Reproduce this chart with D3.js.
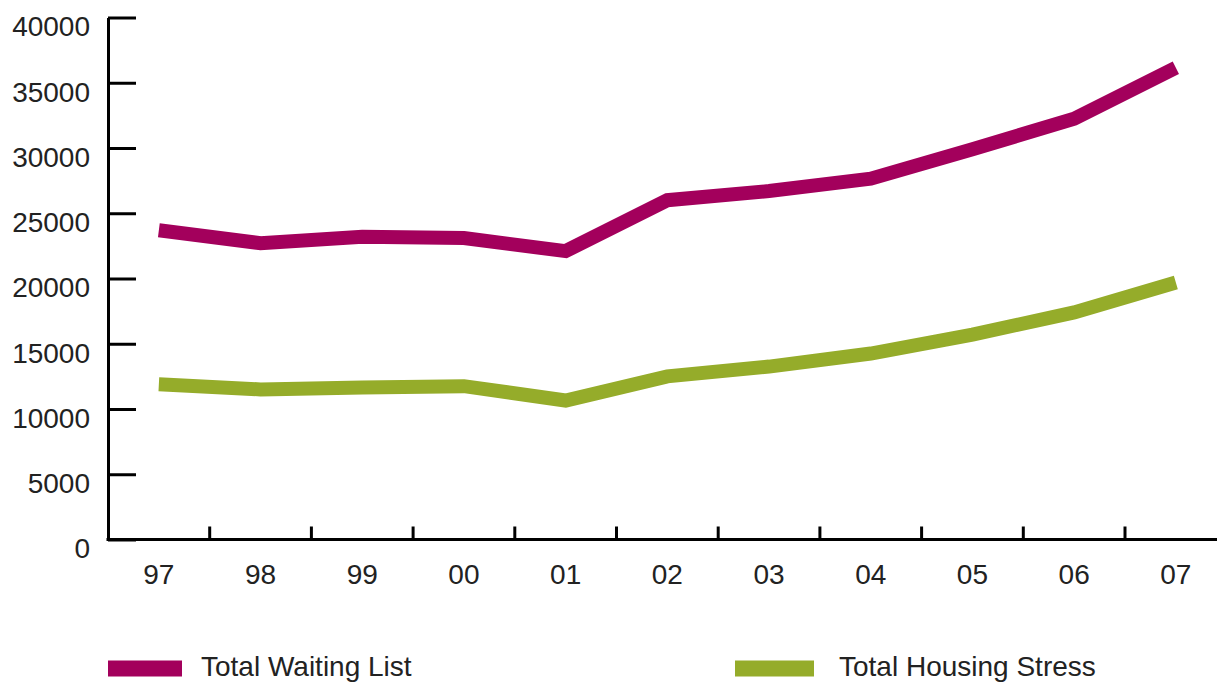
<!DOCTYPE html>
<head>
    <title>Waiting list and housing stress</title>
    <script src="https://d3js.org/d3.v7.min.js"></script>
</head>
<style>
body {
  margin: 0;
  background: #fff;
  font-family: "Liberation Sans", Helvetica, Arial, sans-serif;
}
</style>
<body>
    <svg></svg>
</body>

<script>

    // Data
    var years = ["97", "98", "99", "00", "01", "02", "03", "04", "05", "06", "07"];
    var waitingList = [23700, 22700, 23200, 23100, 22100, 26000, 26700, 27650, 29900, 32250, 36150];
    var housingStress = [11900, 11500, 11650, 11750, 10650, 12500, 13250, 14250, 15700, 17400, 19700];
    var seriesNames = ["Total Waiting List", "Total Housing Stress"];
    var seriesColors = ["#a3005c", "#95ac2a"];
    var yTicks = [0, 5000, 10000, 15000, 20000, 25000, 30000, 35000, 40000];

    // Variables
    var width = 1217;
    var height = 682;
    var plotLeft = 108, plotTop = 17.5, plotBottom = 539.5;
    var band = 101.7;
    var fontSize = '28px';
    var textColor = '#222';

    var svg = d3.select('svg')
        .attr('width', width)
        .attr('height', height);

    var x = d3.scaleBand()
        .domain(years)
        .range([plotLeft, plotLeft + band * years.length]);

    var y = d3.scaleLinear()
        .domain([0, 40000])
        .range([plotBottom, plotTop]);

    // Y axis, ticks point inward
    var yAxis = svg.append('g')
        .attr('transform', 'translate(' + plotLeft + ',0)')
        .call(d3.axisLeft(y).tickValues(yTicks).tickFormat(d3.format('d'))
            .tickSizeInner(-28).tickSizeOuter(0).tickPadding(18));
    yAxis.select('.domain').attr('stroke-width', 3);
    yAxis.selectAll('.tick line').attr('stroke-width', 3);
    yAxis.selectAll('text')
        .attr('dy', '0.66em')
        .style('font-size', fontSize)
        .style('font-family', '"Liberation Sans", Helvetica, Arial, sans-serif')
        .attr('fill', textColor);

    // X axis: labels centred in each band
    var xAxis = svg.append('g')
        .attr('transform', 'translate(0,' + plotBottom + ')')
        .call(d3.axisBottom(x).tickSize(0).tickPadding(25));
    xAxis.select('.domain')
        .attr('d', 'M' + (plotLeft - 1.5) + ',0H' + (plotLeft + band * years.length))
        .attr('stroke-width', 3);
    xAxis.selectAll('text')
        .style('font-size', fontSize)
        .style('font-family', '"Liberation Sans", Helvetica, Arial, sans-serif')
        .attr('fill', textColor);

    // small upward ticks on the band boundaries
    svg.append('g')
        .selectAll('line')
        .data(years.slice(1))
        .enter().append('line')
        .attr('x1', function (d) { return x(d); })
        .attr('x2', function (d) { return x(d); })
        .attr('y1', plotBottom)
        .attr('y2', plotBottom - 13)
        .attr('stroke', '#000')
        .attr('stroke-width', 3);

    // Lines
    var line = d3.line()
        .x(function (d, i) { return x(years[i]) + x.bandwidth() / 2; })
        .y(function (d) { return y(d); });

    svg.selectAll('.series')
        .data([waitingList, housingStress])
        .enter().append('path')
        .attr('class', 'series')
        .attr('d', line)
        .attr('fill', 'none')
        .attr('stroke', function (d, i) { return seriesColors[i]; })
        .attr('stroke-width', 14)
        .attr('stroke-linejoin', 'miter')
        .attr('stroke-linecap', 'butt');

    // Legend
    var legendX = [108, 735];
    var legend = svg.selectAll('.legend')
        .data(seriesNames)
        .enter().append('g')
        .attr('class', 'legend')
        .attr('transform', function (d, i) { return 'translate(' + legendX[i] + ',660.5)'; });

    legend.append('rect')
        .attr('width', function (d, i) { return i ? 79 : 74; })
        .attr('height', 16)
        .attr('fill', function (d, i) { return seriesColors[i]; });

    legend.append('text')
        .attr('x', function (d, i) { return i ? 104 : 93; })
        .attr('y', 15)
        .style('font-size', fontSize)
        .attr('fill', textColor)
        .text(function (d) { return d; });

</script>
